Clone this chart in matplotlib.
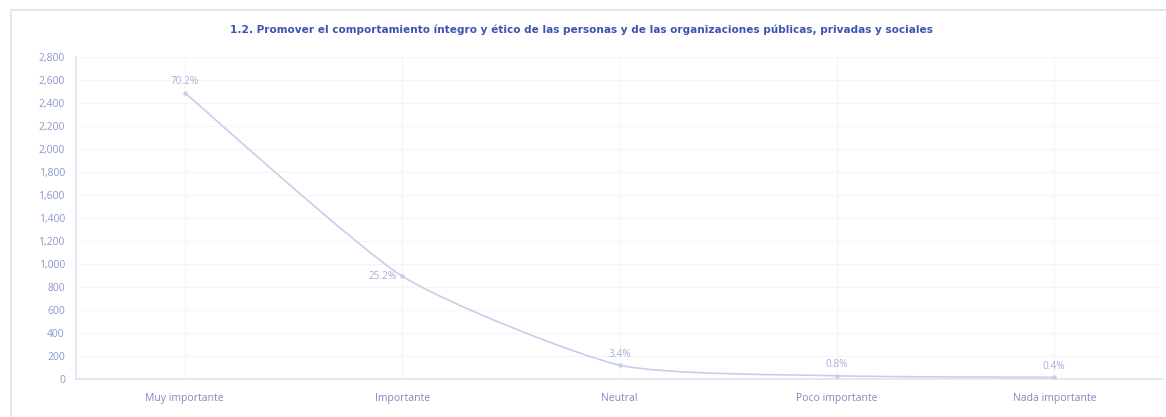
import matplotlib
matplotlib.use("Agg")
import matplotlib.pyplot as plt
from matplotlib.patches import Rectangle, PathPatch
from matplotlib.path import Path

categories = ["Muy importante", "Importante", "Neutral", "Poco importante", "Nada importante"]
values = [2490, 895, 121, 28, 14]
pct_labels = ["70.2%", "25.2%", "3.4%", "0.8%", "0.4%"]
yticks = list(range(0, 2801, 200))
title = "1.2. Promover el comportamiento íntegro y ético de las personas y de las organizaciones públicas, privadas y sociales"

plt.rcParams['font.family'] = ['Open Sans', 'DejaVu Sans']

W, H = 1166, 417
fig = plt.figure(figsize=(W / 100, H / 100), dpi=100)
fig.patch.set_facecolor("white")

# card border
fig.add_artist(Rectangle((11 / W, -0.1), 1.2, (H - 10) / H + 0.1, transform=fig.transFigure,
                         fill=False, edgecolor="#e3e5f3", linewidth=1.5))

left, right, top, bottom = 76, 1163, 57, 379
ax = fig.add_axes([left / W, 1 - bottom / H, (right - left) / W, (bottom - top) / H])

x = list(range(len(categories)))
line_color = "#c9cdea"

# smooth (spline-like) line through the data points using cubic Bezier segments
tension = 0.1
verts = [(x[0], values[0])]
codes = [Path.MOVETO]
n = len(x)
for i in range(n - 1):
    p0 = (x[max(i - 1, 0)], values[max(i - 1, 0)])
    p1 = (x[i], values[i])
    p2 = (x[i + 1], values[i + 1])
    p3 = (x[min(i + 2, n - 1)], values[min(i + 2, n - 1)])
    c1 = (p1[0] + tension * (p2[0] - p0[0]), p1[1] + tension * (p2[1] - p0[1]))
    c2 = (p2[0] - tension * (p3[0] - p1[0]), p2[1] - tension * (p3[1] - p1[1]))
    verts += [c1, c2, p2]
    codes += [Path.CURVE4] * 3
ax.add_patch(PathPatch(Path(verts, codes), facecolor="none", edgecolor=line_color,
                       linewidth=1.2, zorder=3))
ax.plot(x, values, linestyle="none", marker="o", markersize=2.2,
        markerfacecolor=line_color, markeredgecolor=line_color, zorder=4)

offsets = [(0, 4, "center"), (-4, 0, "right"), (0, 4, "center"), (0, 4, "center"), (0, 4, "center")]
for xi, v, lab, (dx, dy, ha) in zip(x, values, pct_labels, offsets):
    ax.annotate(lab, (xi, v), xytext=(dx, dy), textcoords="offset points",
                ha=ha, va="bottom" if dy else "center", fontsize=7.3, color="#a7afd8")

ax.set_xlim(-0.5, len(categories) - 0.5)
ax.set_ylim(0, 2800)
ax.set_yticks(yticks)
ax.set_yticklabels([f"{t:,}" for t in yticks], fontsize=7.5, color="#8d97cc")
ax.set_xticks(x)
ax.set_xticklabels(categories, fontsize=7.5, color="#7f89c2")
ax.tick_params(axis="both", length=0, pad=8)
ax.tick_params(axis="x", pad=10)

ax.grid(True, color="#f4f5fa", linewidth=0.8)
ax.set_axisbelow(True)
for s in ["top", "right"]:
    ax.spines[s].set_visible(False)
for s in ["left", "bottom"]:
    ax.spines[s].set_color("#dfe2f2")
    ax.spines[s].set_linewidth(1.2)

fig.text(581 / W, 1 - 30 / H, title, ha="center", va="center", fontsize=7.6,
         fontweight="bold", color="#3c54b0", family=["DejaVu Sans"])

fig.savefig("out.png", dpi=100)
